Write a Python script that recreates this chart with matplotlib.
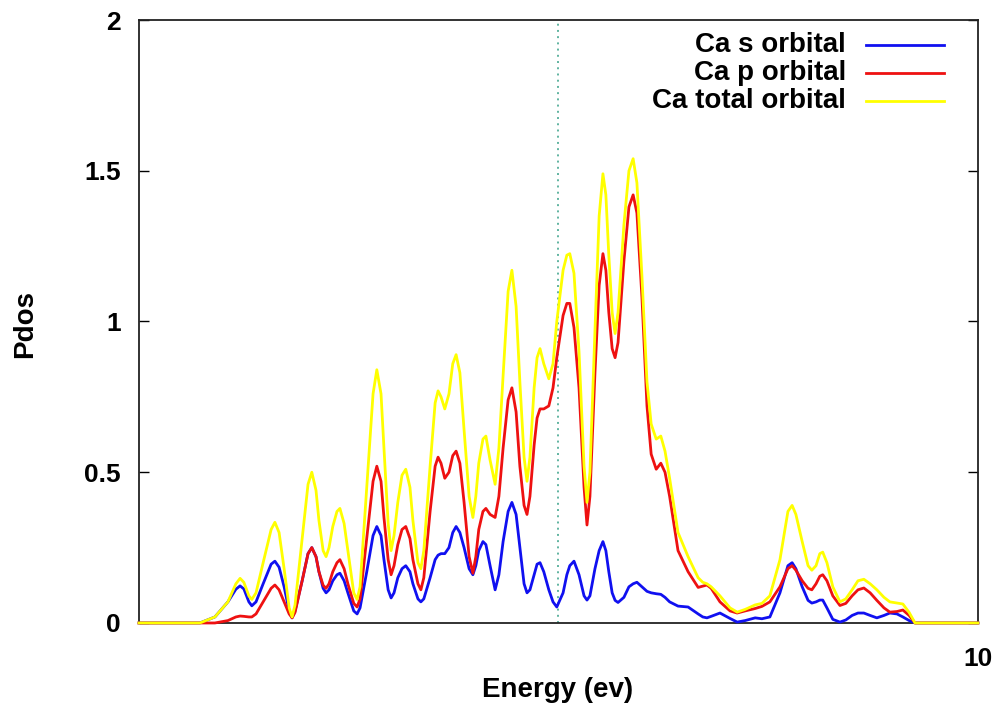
import numpy as np
import matplotlib
matplotlib.use("Agg")
import matplotlib.pyplot as plt
from matplotlib.lines import Line2D

plt.rcParams['font.family'] = ['Liberation Sans', 'DejaVu Sans']
plt.rcParams['font.weight'] = 'bold'

# energy grid (eV, Fermi level at 0)
energy = [-10.00, -8.55, -8.19, -7.88, -7.69, -7.59, -7.50, -7.38, -7.31, -7.21,
          -7.04, -6.85, -6.76, -6.66, -6.54, -6.42, -6.35, -6.28, -6.11, -5.97,
          -5.88, -5.78, -5.71, -5.61, -5.54, -5.47, -5.38, -5.28, -5.21, -5.11,
          -5.02, -4.88, -4.80, -4.73, -4.57, -4.42, -4.33, -4.23, -4.16, -4.06,
          -3.99, -3.92, -3.83, -3.73, -3.64, -3.54, -3.47, -3.35, -3.28, -3.21,
          -3.06, -2.94, -2.87, -2.80, -2.71, -2.61, -2.52, -2.44, -2.35, -2.25,
          -2.13, -2.04, -1.97, -1.90, -1.80, -1.73, -1.63, -1.51, -1.42, -1.32,
          -1.20, -1.11, -1.01, -0.92, -0.82, -0.75, -0.68, -0.58, -0.51, -0.44,
          -0.35, -0.23, -0.13, -0.04, 0.11, 0.20, 0.27, 0.37, 0.49, 0.61,
          0.68, 0.75, 0.87, 0.97, 1.06, 1.13, 1.20, 1.28, 1.35, 1.42,
          1.56, 1.68, 1.78, 1.87, 1.99, 2.11, 2.21, 2.33, 2.44, 2.54,
          2.65, 2.85, 3.09, 3.33, 3.44, 3.54, 3.64, 3.85, 4.09, 4.26,
          4.45, 4.69, 4.85, 5.04, 5.28, 5.47, 5.57, 5.66, 5.81, 5.95,
          6.04, 6.14, 6.23, 6.30, 6.40, 6.54, 6.71, 6.85, 7.00, 7.14,
          7.28, 7.43, 7.59, 7.76, 7.90, 8.07, 8.21, 8.36, 8.50, 10.00]

ca_s = [0, 0, 0.02, 0.07, 0.112, 0.123, 0.113, 0.07, 0.057, 0.07,
        0.13, 0.195, 0.205, 0.185, 0.12, 0.04, 0.017, 0.04, 0.14, 0.23,
        0.25, 0.22, 0.17, 0.115, 0.10, 0.11, 0.14, 0.16, 0.165, 0.14,
        0.10, 0.04, 0.03, 0.05, 0.17, 0.29, 0.32, 0.29, 0.21, 0.11,
        0.083, 0.10, 0.15, 0.18, 0.19, 0.17, 0.13, 0.08, 0.07, 0.08,
        0.15, 0.21, 0.225, 0.23, 0.23, 0.25, 0.30, 0.32, 0.30, 0.25,
        0.18, 0.16, 0.19, 0.24, 0.27, 0.26, 0.19, 0.11, 0.16, 0.27,
        0.37, 0.40, 0.36, 0.25, 0.13, 0.10, 0.11, 0.16, 0.195, 0.20,
        0.17, 0.11, 0.07, 0.053, 0.10, 0.16, 0.19, 0.205, 0.16, 0.09,
        0.076, 0.09, 0.18, 0.24, 0.27, 0.24, 0.17, 0.10, 0.075, 0.068,
        0.085, 0.12, 0.13, 0.135, 0.12, 0.105, 0.10, 0.097, 0.095, 0.085,
        0.07, 0.056, 0.053, 0.03, 0.02, 0.017, 0.022, 0.033, 0.015, 0.003,
        0.008, 0.017, 0.014, 0.02, 0.10, 0.19, 0.20, 0.18, 0.12, 0.075,
        0.066, 0.07, 0.076, 0.076, 0.05, 0.012, 0.003, 0.01, 0.025, 0.033,
        0.033, 0.025, 0.017, 0.025, 0.033, 0.03, 0.02, 0.008, 0, 0]

ca_p = [0, 0, 0, 0.008, 0.02, 0.023, 0.022, 0.02, 0.02, 0.03,
        0.07, 0.115, 0.126, 0.11, 0.07, 0.03, 0.017, 0.035, 0.14, 0.23,
        0.25, 0.22, 0.17, 0.125, 0.115, 0.13, 0.17, 0.20, 0.21, 0.18,
        0.13, 0.065, 0.053, 0.08, 0.28, 0.47, 0.52, 0.47, 0.35, 0.21,
        0.16, 0.19, 0.26, 0.31, 0.32, 0.28, 0.21, 0.13, 0.11, 0.15,
        0.37, 0.52, 0.55, 0.53, 0.48, 0.50, 0.555, 0.57, 0.53, 0.40,
        0.22, 0.165, 0.22, 0.31, 0.37, 0.38, 0.36, 0.35, 0.42, 0.58,
        0.74, 0.78, 0.70, 0.52, 0.39, 0.36, 0.42, 0.59, 0.68, 0.71,
        0.71, 0.72, 0.78, 0.88, 1.02, 1.06, 1.06, 0.98, 0.78, 0.45,
        0.325, 0.42, 0.83, 1.12, 1.225, 1.17, 1.03, 0.91, 0.88, 0.93,
        1.20, 1.38, 1.42, 1.36, 1.08, 0.72, 0.56, 0.51, 0.53, 0.50,
        0.42, 0.24, 0.17, 0.118, 0.122, 0.126, 0.115, 0.07, 0.04, 0.033,
        0.04, 0.048, 0.055, 0.07, 0.12, 0.18, 0.19, 0.175, 0.14, 0.115,
        0.11, 0.13, 0.155, 0.16, 0.14, 0.09, 0.058, 0.065, 0.09, 0.11,
        0.116, 0.10, 0.075, 0.05, 0.036, 0.038, 0.043, 0.025, 0, 0]

ca_total = [0, 0, 0.02, 0.07, 0.13, 0.148, 0.135, 0.09, 0.078, 0.10,
            0.20, 0.31, 0.334, 0.30, 0.18, 0.05, 0.02, 0.06, 0.28, 0.46,
            0.50, 0.44, 0.34, 0.24, 0.22, 0.25, 0.32, 0.37, 0.38, 0.33,
            0.24, 0.10, 0.078, 0.12, 0.45, 0.76, 0.84, 0.76, 0.58, 0.33,
            0.24, 0.29, 0.40, 0.49, 0.51, 0.45, 0.34, 0.20, 0.18, 0.24,
            0.52, 0.73, 0.77, 0.75, 0.71, 0.76, 0.86, 0.89, 0.83, 0.64,
            0.42, 0.35, 0.42, 0.53, 0.61, 0.62, 0.54, 0.46, 0.58, 0.82,
            1.10, 1.17, 1.05, 0.80, 0.55, 0.47, 0.55, 0.78, 0.88, 0.91,
            0.86, 0.81, 0.86, 1.00, 1.17, 1.22, 1.225, 1.16, 0.90, 0.52,
            0.40, 0.50, 0.97, 1.35, 1.49, 1.42, 1.22, 1.03, 0.96, 1.03,
            1.32, 1.50, 1.54, 1.46, 1.15, 0.80, 0.66, 0.61, 0.62, 0.57,
            0.48, 0.30, 0.22, 0.15, 0.135, 0.13, 0.12, 0.09, 0.05, 0.036,
            0.045, 0.06, 0.065, 0.09, 0.21, 0.37, 0.39, 0.36, 0.27, 0.19,
            0.175, 0.19, 0.23, 0.235, 0.20, 0.12, 0.07, 0.08, 0.11, 0.14,
            0.145, 0.13, 0.11, 0.085, 0.07, 0.066, 0.063, 0.035, 0, 0]

labels = ['Ca s orbital', 'Ca p orbital', 'Ca total orbital']
colors = ['#1010f0', '#ee1111', '#ffff00']

fig = plt.figure(figsize=(10.02, 7.15), dpi=100)
ax = fig.add_axes([0.1387, 0.1287, 0.8373, 0.8433])

for y, c in zip([ca_s, ca_p, ca_total], colors):
    ax.plot(energy, y, color=c, lw=2.0, zorder=3, clip_on=False,
            solid_joinstyle='round')

# Fermi level
ax.axvline(0, color='#5fb3a0', lw=1.4, linestyle=(0, (1, 2.2)), zorder=1)

ax.set_xlim(-10, 10)
ax.set_ylim(0, 2)
ax.set_xticks([10])
ax.set_xticklabels(['10'])
ax.set_yticks([0, 0.5, 1, 1.5, 2])
ax.set_yticklabels(['0', '0.5', '1', '1.5', '2'])
ax.tick_params(axis='y', direction='in', length=7, width=1, labelsize=19,
               pad=13, right=True)
ax.tick_params(axis='x', direction='in', length=0, labelsize=19, pad=17)
for sp in ax.spines.values():
    sp.set_linewidth(1.3)
    sp.set_color('#222222')

fig.text(0.5569, 0.035, 'Energy (ev)', ha='center', va='center',
         fontsize=20, fontweight='bold')
fig.text(0.025, 0.547, 'Pdos', ha='center', va='center', rotation=90,
         fontsize=20, fontweight='bold')

# key, text right-aligned next to the line samples
for i, (lab, c) in enumerate(zip(labels, colors)):
    yy = 1 - (45 + 28 * i) / 715
    fig.text(0.8443, yy, lab, ha='right', va='center', fontsize=20,
             fontweight='bold')
    fig.add_artist(Line2D([0.864, 0.942], [yy, yy], color=c, lw=2.0,
                          transform=fig.transFigure))

fig.savefig('out.png', dpi=100)
